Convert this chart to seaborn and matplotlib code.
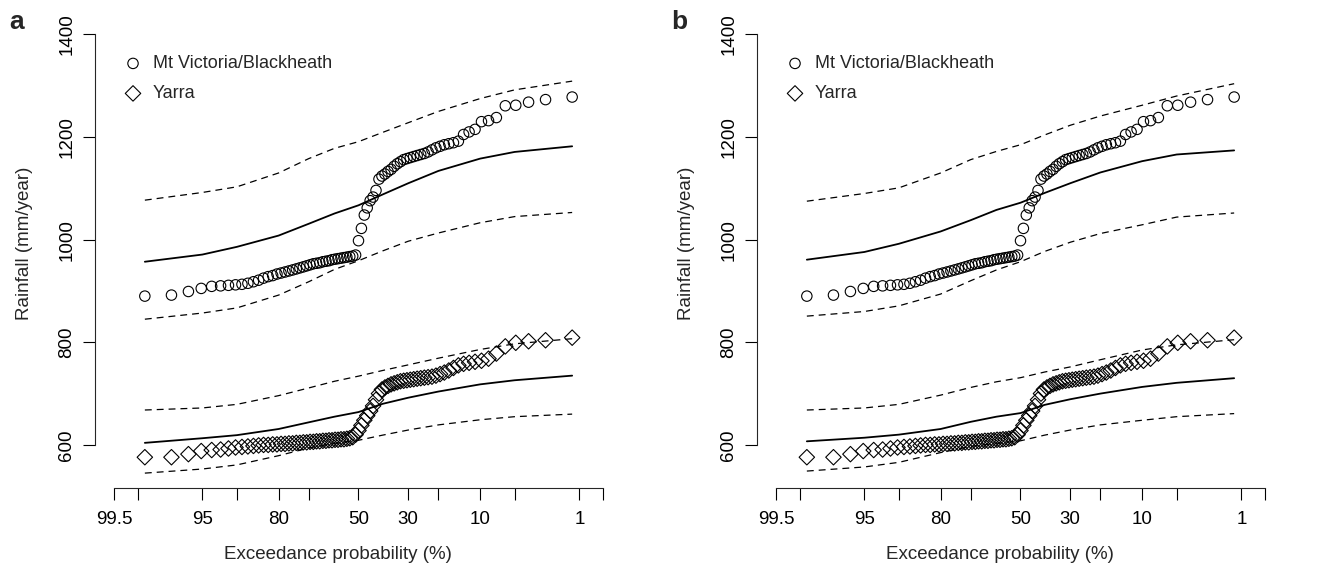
import numpy as np
import matplotlib
matplotlib.use("Agg")
import matplotlib.pyplot as plt
import seaborn as sns
from matplotlib.ticker import FixedLocator, FixedFormatter, NullLocator
from statistics import NormalDist

# Annual rainfall records, sorted ascending (mm/year)
mtv_rain = [890, 892, 899, 905, 909, 910, 911, 912, 913, 915,
            918, 921, 925, 928, 930, 933, 935, 937, 939, 941,
            943, 945, 947, 949, 951, 953, 954, 955, 957, 958,
            959, 961, 962, 963, 964, 965, 966, 967, 968, 970,
            998, 1022, 1048, 1062, 1076, 1083, 1096, 1118, 1124, 1128,
            1133, 1137, 1143, 1148, 1152, 1156, 1158, 1160, 1162, 1164,
            1166, 1168, 1171, 1175, 1179, 1182, 1185, 1187, 1189, 1192,
            1205, 1210, 1215, 1230, 1232, 1238, 1261, 1262, 1268, 1273,
            1278]
yarra_rain = [576, 576, 582, 588, 590, 591, 593, 595, 596, 597,
              598, 599, 600, 600, 601, 601, 602, 602, 603, 603,
              604, 604, 605, 605, 606, 606, 607, 607, 608, 608,
              609, 609, 610, 610, 611, 611, 612, 613, 615, 620,
              628, 638, 648, 657, 666, 676, 688, 700, 708, 712,
              715, 718, 720, 722, 724, 725, 726, 727, 728, 729,
              730, 731, 732, 733, 735, 738, 741, 745, 750, 755,
              758, 760, 762, 764, 768, 778, 792, 799, 802, 804,
              809]

# Fitted quantile curves with lower/upper bounds, per panel
curve_exceed = [98.78, 95, 90, 80, 70, 60, 50, 40, 30, 20, 10, 5, 1.22]

a_mtv_fit = [957, 971, 986, 1008, 1031, 1051, 1067, 1088, 1110, 1134, 1158, 1171, 1182]
a_mtv_upper = [1077, 1092, 1103, 1130, 1158, 1178, 1191, 1209, 1228, 1250, 1275, 1292, 1309]
a_mtv_lower = [845, 857, 867, 892, 918, 942, 959, 978, 997, 1013, 1033, 1045, 1053]
a_yarra_fit = [604, 613, 619, 631, 644, 655, 664, 680, 692, 704, 718, 726, 735]
a_yarra_upper = [668, 672, 679, 696, 711, 724, 734, 745, 756, 769, 786, 797, 807]
a_yarra_lower = [545, 553, 561, 579, 594, 603, 609, 619, 629, 639, 649, 655, 660]

b_mtv_fit = [961, 976, 992, 1016, 1038, 1058, 1072, 1091, 1110, 1131, 1153, 1166, 1174]
b_mtv_upper = [1075, 1090, 1101, 1130, 1156, 1172, 1185, 1204, 1223, 1241, 1262, 1280, 1304]
b_mtv_lower = [851, 860, 871, 894, 920, 941, 957, 977, 995, 1012, 1029, 1044, 1052]
b_yarra_fit = [607, 614, 620, 631, 645, 655, 662, 678, 689, 700, 713, 721, 730]
b_yarra_upper = [668, 672, 679, 697, 712, 723, 731, 742, 752, 766, 785, 795, 805]
b_yarra_lower = [549, 557, 566, 585, 597, 603, 608, 619, 629, 639, 648, 655, 661]

tick_probs = [99.5, 99, 95, 90, 80, 70, 50, 30, 20, 10, 5, 1, 0.5]
tick_labels = ["99.5", "", "95", "", "80", "", "50", "30", "", "10", "", "1", ""]
y_ticks = [600, 800, 1000, 1200, 1400]

station_names = ["Mt Victoria/Blackheath", "Yarra"]

# Weibull plotting positions, as exceedance probability (%)
n_years = len(mtv_rain)
ranks = np.arange(1, n_years + 1)
obs_exceed = 100.0 * (1.0 - ranks / (n_years + 1))

# Normal-probability axis: exceedance (%) <-> standard normal quantile
_nd = NormalDist()
_ppf = np.vectorize(_nd.inv_cdf, otypes=[float])
_cdf = np.vectorize(_nd.cdf, otypes=[float])


def exceed_to_z(p):
    p = np.clip(np.asarray(p, dtype=float), 1e-7, 100 - 1e-7)
    return _ppf(p / 100.0)


def z_to_exceed(z):
    z = np.clip(np.asarray(z, dtype=float), -30, 30)
    return 100.0 * _cdf(z)


sns.set_style("ticks")
plt.rcParams["font.family"] = ["Liberation Sans", "DejaVu Sans"]
plt.rcParams["axes.linewidth"] = 0.8

W, H = 1324, 566
fig = plt.figure(figsize=(W / 100, H / 100), dpi=100)

panels = [
    ("a", 95, (a_mtv_fit, a_mtv_upper, a_mtv_lower, a_yarra_fit, a_yarra_upper, a_yarra_lower)),
    ("b", 757, (b_mtv_fit, b_mtv_upper, b_mtv_lower, b_yarra_fit, b_yarra_upper, b_yarra_lower)),
]

ax_top, ax_bottom, ax_w = 17, 488, 527
z_edge = 2.776

for letter, left_px, curves in panels:
    ax = fig.add_axes([left_px / W, (H - ax_bottom) / H, ax_w / W, (ax_bottom - ax_top) / H])
    ax.set_xscale("function", functions=(exceed_to_z, z_to_exceed))
    # high exceedance on the left, rare events on the right
    ax.set_xlim(float(z_to_exceed(z_edge)), float(z_to_exceed(-z_edge)))
    ax.set_ylim(516, 1434)

    fit_m, up_m, lo_m, fit_y, up_y, lo_y = curves
    for fit, up, lo in [(fit_m, up_m, lo_m), (fit_y, up_y, lo_y)]:
        sns.lineplot(x=curve_exceed, y=fit, color="black", linewidth=1.3,
                     sort=False, estimator=None, ax=ax)
        for bound in (up, lo):
            sns.lineplot(x=curve_exceed, y=bound, color="black", linewidth=0.9,
                         linestyle=(0, (5.5, 4.0)),
                         sort=False, estimator=None, ax=ax)

    sns.scatterplot(x=obs_exceed, y=mtv_rain, marker="o", s=56,
                    color="none", edgecolor="black", linewidth=0.8,
                    ax=ax, label=station_names[0], zorder=3)
    sns.scatterplot(x=obs_exceed, y=yarra_rain, marker="D", s=62,
                    color="none", edgecolor="black", linewidth=0.8,
                    ax=ax, label=station_names[1], zorder=3)

    handles, labels = ax.get_legend_handles_labels()
    ax.legend(handles, labels, loc="upper left", bbox_to_anchor=(0.055, 0.919),
              frameon=False, fontsize=13, handlelength=1.0, handletextpad=0.6,
              labelspacing=0.72, borderpad=0, borderaxespad=0, scatterpoints=1)

    ax.xaxis.set_major_locator(FixedLocator(tick_probs))
    ax.xaxis.set_major_formatter(FixedFormatter(tick_labels))
    ax.xaxis.set_minor_locator(NullLocator())
    ax.set_yticks(y_ticks)
    ax.set_yticklabels([str(v) for v in y_ticks], rotation=90, va="center")
    ax.tick_params(axis="both", direction="out", length=8.3, width=0.8,
                   pad=6, labelsize=13.5, colors="black")
    ax.tick_params(axis="x", pad=8)

    for side in ("top", "right"):
        ax.spines[side].set_visible(False)
    ax.spines["left"].set_bounds(600, 1400)
    ax.spines["bottom"].set_bounds(99.5, 0.5)

    ax.set_xlabel("Exceedance probability (%)", fontsize=13.5)
    ax.set_ylabel("Rainfall (mm/year)", fontsize=13.5)
    ax.xaxis.set_label_coords((338 - 95) / ax_w, -0.124)
    ax.yaxis.set_label_coords(-0.118, 0.52)

    fig.text((left_px - 78) / W, 1 - 22 / H, letter, fontsize=19,
             fontweight="bold", ha="center", va="center")

fig.savefig("out.png", dpi=100)
